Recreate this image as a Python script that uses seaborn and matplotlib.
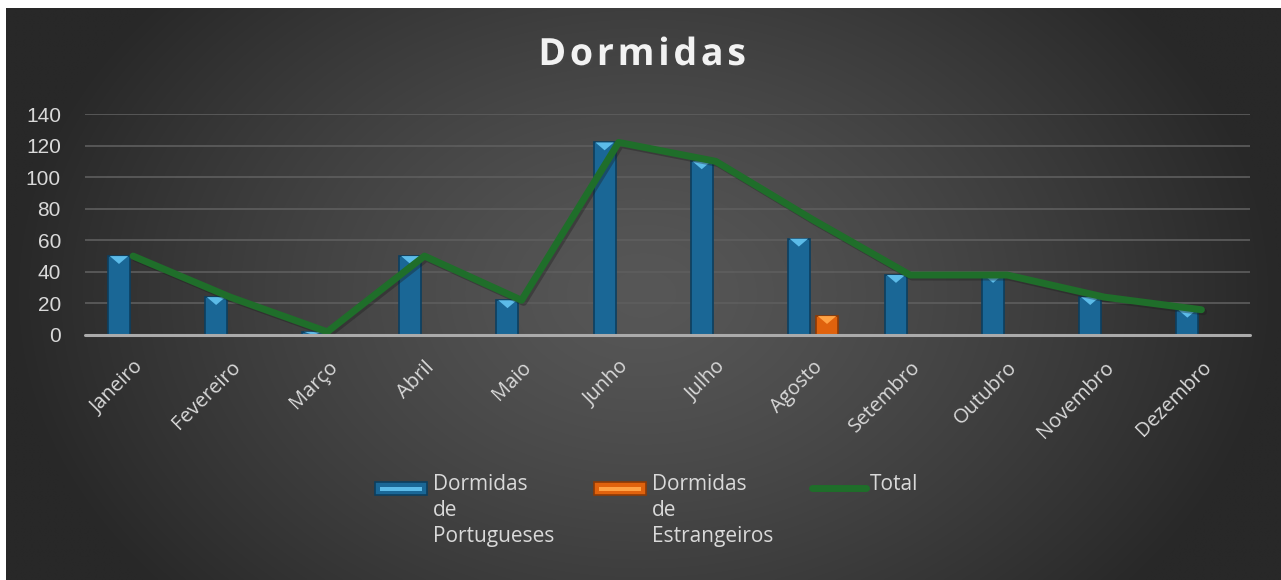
import numpy as np
import pandas as pd
import seaborn as sns
import matplotlib.pyplot as plt
import matplotlib.patheffects as pe
from matplotlib.patches import Polygon, Rectangle
from matplotlib.lines import Line2D

# data
meses = ["Janeiro", "Fevereiro", "Março", "Abril", "Maio", "Junho",
         "Julho", "Agosto", "Setembro", "Outubro", "Novembro", "Dezembro"]
portugueses = [50, 24, 2, 50, 22, 122, 110, 61, 38, 38, 24, 16]
estrangeiros = [0, 0, 0, 0, 0, 0, 0, 12, 0, 0, 0, 0]
series = ["Dormidas de Portugueses", "Dormidas de Estrangeiros", "Total"]
y_ticks = [0, 20, 40, 60, 80, 100, 120, 140]

total = [p + e for p, e in zip(portugueses, estrangeiros)]

df = pd.DataFrame({
    "Mes": meses * 2,
    "Serie": [series[0]] * len(meses) + [series[1]] * len(meses),
    "Dormidas": portugueses + estrangeiros,
})

blue, blue_dark, blue_light = "#1a6796", "#0c3f5f", "#5cbbe8"
orange, orange_dark, orange_light = "#e0620d", "#8c3a06", "#ffa244"
green = "#1f6e2a"
txt = "#d9d9d9"

sns.set_theme(style="dark", rc={"axes.facecolor": "none", "figure.facecolor": "white"})
plt.rcParams["font.family"] = ["Open Sans", "DejaVu Sans"]

W, H = 1281, 580
fig = plt.figure(figsize=(W / 100, H / 100), dpi=100)

# radial gray background
bg = fig.add_axes([6 / W, 0, 1 - 6 / W, 1 - 8 / H], zorder=0)
yy, xx = np.mgrid[-1:1:300j, -1:1:640j]
r = np.sqrt((xx / 1.05) ** 2 + (yy / 1.7) ** 2)
t = np.clip(r / 0.95, 0, 1) ** 1.3
c0, c1 = 0x57 / 255, 0x28 / 255
img = c0 + (c1 - c0) * t
bg.imshow(np.dstack([img, img, img]), aspect="auto", interpolation="bilinear")
bg.axis("off")

ax = fig.add_axes([84.5 / W, 1 - 335 / H, (1250 - 84.5) / W, (335 - 114) / H], zorder=1)

sns.barplot(data=df, x="Mes", y="Dormidas", hue="Serie", hue_order=series[:2],
            palette=[blue, orange], saturation=1, width=0.58, gap=0.22,
            legend=False, ax=ax, zorder=3)

# bevel look on bars
for bar in ax.patches:
    h = bar.get_height()
    if h <= 0:
        bar.set_visible(False)
        continue
    is_blue = bar.get_facecolor()[2] > 0.4
    bar.set_edgecolor(blue_dark if is_blue else orange_dark)
    bar.set_linewidth(1.2)
    x0, w = bar.get_x(), bar.get_width()
    d = min(h, 5)
    tri = Polygon([(x0 + w * 0.08, h), (x0 + w * 0.92, h), (x0 + w / 2, h - d)],
                  closed=True, facecolor=blue_light if is_blue else orange_light,
                  edgecolor="none", zorder=4)
    ax.add_patch(tri)

sns.lineplot(x=np.arange(len(meses)), y=total, color=green, linewidth=5,
             ax=ax, zorder=5, solid_capstyle="round", solid_joinstyle="round",
             path_effects=[pe.SimpleLineShadow(offset=(1.5, -1.5), alpha=0.35), pe.Normal()])

ax.set_xlim(-0.5, len(meses) - 0.5)
ax.set_ylim(0, 140)
ax.set_yticks(y_ticks)
ax.set_xlabel("")
ax.set_ylabel("")
for s in ax.spines.values():
    s.set_visible(False)
ax.yaxis.grid(True, color="#5e5e5e", linewidth=1.2, zorder=1)
ax.xaxis.grid(False)
ax.axhline(0, color="#ababab", linewidth=2.2, zorder=6, clip_on=False)

ax.tick_params(axis="y", colors=txt, labelsize=15, pad=17, length=0)
ax.tick_params(axis="x", colors=txt, labelsize=14.5, pad=16, length=0)
for lab in ax.get_yticklabels():
    lab.set_fontfamily(["Liberation Sans", "DejaVu Sans"])
for lab in ax.get_xticklabels():
    lab.set_rotation(45)
    lab.set_ha("right")
    lab.set_va("top")
    lab.set_rotation_mode("anchor")

fig.text(642 / W, 1 - 55 / H, "\u200a".join("Dormidas"), ha="center", va="center", fontsize=27,
         fontweight="bold", color="#f2f2f2", family=["Open Sans", "DejaVu Sans"],
         path_effects=[pe.withSimplePatchShadow(offset=(1.5, -1.5), alpha=0.4)])

# legend, handle beside first line of each label
def leg_patch(x, fc, ec, lc):
    fig.add_artist(Rectangle((x / W, 1 - 495 / H), 52 / W, 13 / H, transform=fig.transFigure,
                             facecolor=fc, edgecolor=ec, linewidth=1.2))
    fig.add_artist(Rectangle(((x + 5) / W, 1 - 491 / H), 42 / W, 4 / H, transform=fig.transFigure,
                             facecolor=lc, edgecolor="none"))

leg_patch(375, blue, blue_dark, blue_light)
leg_patch(594, orange, orange_dark, orange_light)
fig.add_artist(Line2D([812 / W, 866 / W], [1 - 488 / H, 1 - 488 / H], transform=fig.transFigure,
                      color=green, linewidth=5, solid_capstyle="round"))
for x, lab in zip([433, 652, 870], series):
    fig.text(x / W, 1 - 474 / H, lab.replace(" ", "\n"), ha="left", va="top",
             fontsize=15, color=txt, linespacing=1.3)

fig.savefig("out.png", dpi=100)
